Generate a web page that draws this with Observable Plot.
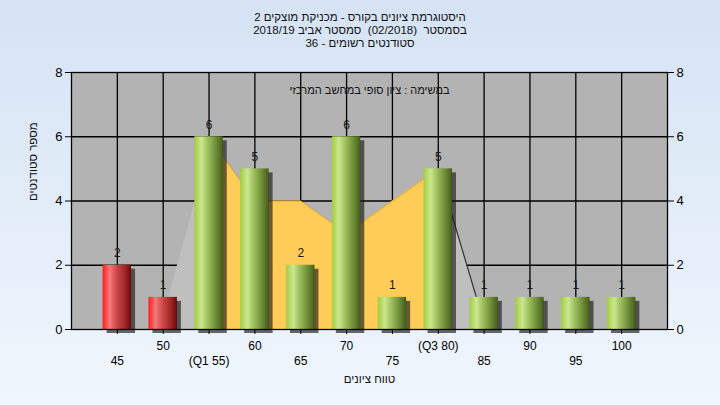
<!DOCTYPE html>
<html><head><meta charset="utf-8">
<script src="https://cdn.jsdelivr.net/npm/d3@7"></script>
<script src="https://cdn.jsdelivr.net/npm/@observablehq/plot@0.6"></script>
<style>
body{margin:0;}
#wrap{position:relative;width:720px;height:405px;background:linear-gradient(#d5e3f4,#f0f6fd);overflow:hidden;font-family:"Liberation Sans",Arial,sans-serif;}
.t{position:absolute;left:0;width:720px;text-align:center;font-size:11.5px;line-height:13px;color:#111;}
#chart{position:absolute;left:0;top:0;}
</style></head><body>
<div id="wrap">
  <div id="chart"></div>
  <div class="t" dir="rtl" style="top:11px">היסטוגרמת ציונים בקורס - מכניקת מוצקים 2</div>
  <div class="t" dir="rtl" style="top:24px">בסמסטר&nbsp; (02/2018)&nbsp; סמסטר אביב 2018/19</div>
  <div class="t" dir="rtl" style="top:37px">סטודנטים רשומים - 36</div>
</div>
<script>
// ---- data ----
const grades = [45, 50, 55, 60, 65, 70, 75, 80, 85, 90, 95, 100];
const counts = [2, 1, 6, 5, 2, 6, 1, 5, 1, 1, 1, 1];
const kinds  = ["fail","fail","pass","pass","pass","pass","pass","pass","pass","pass","pass","pass"];
const tickLabels = ["45","50","(Q1 55)","60","65","70","75","(Q3 80)","85","90","95","100"];
const rowOneTicks = [50, 60, 70, 80, 90, 100];
const rowTwoTicks = [45, 55, 65, 75, 85, 95];
// interquartile area
const iqrX = [55, 60, 65, 70, 75, 80];
const iqrY = [6, 4, 4, 3, 4, 5];
// light wedges
const wedgeX = [49.6, 55.5, 80, 85.2];
const wedgeY = [0, 6, 5, 0];
const wedgeG = ["L", "L", "R", "R"];
const yTicks = [0, 2, 4, 6, 8];
const title = "במשימה : ציון סופי במחשב המרכזי";
const xTitle = "טווח ציונים";
const yTitle = "מספר סטודנטים";

const bars = grades.map((g, i) => ({grade: g, count: counts[i], kind: kinds[i]}));
const iqr = iqrX.map((x, i) => ({x, y: iqrY[i]}));
const wedges = wedgeX.map((x, i) => ({x, y: wedgeY[i], g: wedgeG[i]}));
const rightWedge = wedges.filter(d => d.g === "R");
const labelOf = g => tickLabels[grades.indexOf(g)];
const RLE = "\u202B", PDF = "\u202C";
const halfW = 1.55;

const svg = Plot.plot({
  width: 720, height: 405,
  marginLeft: 71, marginRight: 53, marginTop: 72, marginBottom: 76,
  x: {domain: [40, 105]},
  y: {domain: [0, 8]},
  style: {background: "transparent", fontFamily: "Liberation Sans, Arial, sans-serif", fontSize: "12px", color: "#000"},
  marks: [
    Plot.frame({fill: "#b3b3b3"}),
    Plot.ruleY([2, 4, 6], {stroke: "#000", strokeWidth: 1.3}),
    Plot.ruleX(grades, {stroke: "#000", strokeWidth: 1.3}),
    Plot.areaY(wedges, {x: "x", y: "y", z: "g", fill: "#bfbfbf"}),
    Plot.areaY(iqr, {x: "x", y: "y", fill: "#ffcc58"}),
    Plot.line(iqr, {x: "x", y: "y", stroke: "#c89a30", strokeWidth: 0.8}),
    Plot.line(rightWedge, {x: "x", y: "y", stroke: "#333", strokeWidth: 1.2}),
    Plot.rectY(bars, {x1: d => d.grade - halfW, x2: d => d.grade + halfW, y: "count", fill: "#1a1a1a", fillOpacity: 0.65, dx: 4, dy: 4, ariaLabel: "shadow"}),
    Plot.rectY(bars, {filter: d => d.kind === "fail", x1: d => d.grade - halfW, x2: d => d.grade + halfW, y: "count", fill: "url(#gRed)"}),
    Plot.rectY(bars, {filter: d => d.kind === "pass", x1: d => d.grade - halfW, x2: d => d.grade + halfW, y: "count", fill: "url(#gGreen)"}),
    Plot.text(bars, {x: "grade", y: "count", text: d => String(d.count), dy: -12, fill: "#1a1a1a", fontSize: 12}),
    Plot.frame({stroke: "#000", strokeWidth: 1.3}),
    Plot.axisY({anchor: "left", ticks: yTicks, tickSize: 6, tickPadding: 3, label: null, fontSize: 13}),
    Plot.axisY({anchor: "right", ticks: yTicks, tickSize: 6, tickPadding: 3, label: null, fontSize: 13}),
    Plot.axisX({ticks: grades, tickSize: 5, tickFormat: () => "", label: null}),
    Plot.axisX({ticks: rowOneTicks, tickSize: 0, tickPadding: 12, tickFormat: labelOf, label: null}),
    Plot.axisX({ticks: rowTwoTicks, tickSize: 0, tickPadding: 27, tickFormat: labelOf, label: null}),
    Plot.text([title], {frameAnchor: "top", dy: 14, text: d => RLE + d + PDF, fontSize: 11, fill: "#111"}),
    Plot.text([xTitle], {frameAnchor: "bottom", dy: 53, text: d => RLE + d + PDF, fontSize: 11.5, fill: "#111"}),
    Plot.text([yTitle], {frameAnchor: "left", dx: -38, rotate: -90, text: d => RLE + d + PDF, fontSize: 11.5, fill: "#111"})
  ]
});

const s = d3.select(svg);
const defs = s.insert("defs", ":first-child");
function grad(id, stops) {
  const g = defs.append("linearGradient").attr("id", id).attr("x1", "0").attr("x2", "1").attr("y1", "0").attr("y2", "0");
  stops.forEach(([o, c]) => g.append("stop").attr("offset", o).attr("stop-color", c));
}
grad("gGreen", [["0", "#a2cc40"], ["0.25", "#cbe78f"], ["0.45", "#a3c463"], ["0.75", "#6f8e38"], ["0.96", "#4c6620"], ["1", "#3a4f18"]]);
grad("gRed", [["0", "#ff1c1c"], ["0.25", "#f27a7a"], ["0.5", "#cc4848"], ["0.78", "#a02626"], ["0.96", "#781010"], ["1", "#5a0a0a"]]);
const f = defs.append("filter").attr("id", "blur").attr("x", "-50%").attr("y", "-20%").attr("width", "200%").attr("height", "140%");
f.append("feGaussianBlur").attr("stdDeviation", 1.8);
s.select('g[aria-label="shadow"]').attr("filter", "url(#blur)");

document.getElementById("chart").appendChild(svg);
</script>
</body></html>
